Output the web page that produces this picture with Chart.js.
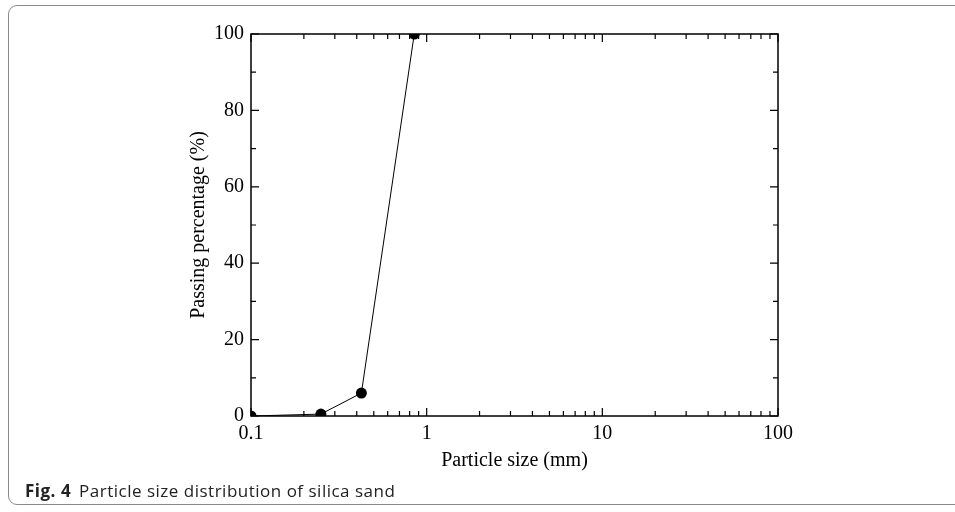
<!DOCTYPE html>
<html>
<head>
<meta charset="utf-8">
<script src="https://cdn.jsdelivr.net/npm/chart.js@4/dist/chart.umd.min.js"></script>
<style>
  html, body { margin: 0; padding: 0; background: #fff; }
  #wrap { position: relative; width: 955px; height: 512px; overflow: hidden; }
  #frame {
    position: absolute; left: 8px; top: 5px; width: 980px; height: 500px;
    border: 1.5px solid #8a8a8a; border-radius: 9px; box-sizing: border-box;
  }
  #caption {
    position: absolute; left: 25px; top: 479px;
    font-family: "Open Sans", sans-serif; font-size: 17px; letter-spacing: 0.5px; color: #222;
  }
  #caption b { font-weight: 700; margin-right: 8px; }
  canvas { position: absolute; left: 0; top: 0; }
</style>
</head>
<body>
<div id="wrap">
  <div id="frame"></div>
  <canvas id="myChart" width="955" height="512"></canvas>
  <div id="caption"><b>Fig. 4</b>Particle size distribution of silica sand</div>
</div>
<script>
// particle size (mm) and passing percentage (%)
const sizes = [0.1, 0.25, 0.425, 0.85];
const passing = [0, 0.5, 6, 100];

const xMajor = [0.1, 1, 10, 100];
const xMinor = [0.2, 0.3, 0.4, 0.5, 0.6, 0.7, 0.8, 0.9, 2, 3, 4, 5, 6, 7, 8, 9, 20, 30, 40, 50, 60, 70, 80, 90];
const yMajor = [0, 20, 40, 60, 80, 100];
const yMinor = [10, 30, 50, 70, 90];

// frame and inward ticks on all four sides
const frameTicks = {
  id: 'frameTicks',
  afterDatasetsDraw(chart) {
    const { ctx, chartArea: a, scales } = chart;
    const x = scales.x, y = scales.y;
    ctx.save();
    ctx.strokeStyle = '#000';
    ctx.lineWidth = 1.5;
    ctx.strokeRect(a.left, a.top, a.right - a.left, a.bottom - a.top);
    ctx.lineWidth = 1.2;
    ctx.beginPath();
    const xt = (v, len) => {
      const px = x.getPixelForValue(v);
      ctx.moveTo(px, a.bottom); ctx.lineTo(px, a.bottom - len);
      ctx.moveTo(px, a.top); ctx.lineTo(px, a.top + len);
    };
    const yt = (v, len) => {
      const py = y.getPixelForValue(v);
      ctx.moveTo(a.left, py); ctx.lineTo(a.left + len, py);
      ctx.moveTo(a.right, py); ctx.lineTo(a.right - len, py);
    };
    xMajor.forEach(v => xt(v, 8));
    xMinor.forEach(v => xt(v, 5));
    yMajor.forEach(v => yt(v, 8));
    yMinor.forEach(v => yt(v, 5));
    ctx.stroke();
    ctx.restore();
  }
};

const serif = { family: '"Liberation Serif", "Times New Roman", serif', size: 20 };

new Chart(document.getElementById('myChart').getContext('2d'), {
  type: 'line',
  data: {
    datasets: [{
      data: sizes.map((s, i) => ({ x: s, y: passing[i] })),
      borderColor: '#000',
      borderWidth: 1,
      backgroundColor: '#000',
      pointRadius: 5.5,
      pointBorderWidth: 0,
      pointBackgroundColor: '#000',
      tension: 0,
    }],
  },
  options: {
    responsive: false,
    animation: false,
    layout: { padding: { left: 187, right: 177, top: 34, bottom: 39 } },
    plugins: { legend: { display: false }, tooltip: { enabled: false } },
    scales: {
      x: {
        type: 'logarithmic',
        min: 0.1,
        max: 100,
        afterBuildTicks: (s) => { s.ticks = xMajor.map(v => ({ value: v })); },
        afterFit: (s) => { s.height = 57; },
        grid: { display: false, drawTicks: false },
        border: { display: false },
        ticks: {
          color: '#000', font: serif, padding: 6, maxRotation: 0, autoSkip: false,
          callback: (v) => String(v),
        },
        title: { display: true, text: 'Particle size (mm)', color: '#000', font: serif, padding: 0 },
      },
      y: {
        min: 0,
        max: 100,
        afterBuildTicks: (s) => { s.ticks = yMajor.map(v => ({ value: v })); },
        afterFit: (s) => { s.width = 64; },
        grid: { display: false, drawTicks: false },
        border: { display: false },
        ticks: { color: '#000', font: serif, padding: 7 },
        title: { display: true, text: 'Passing percentage (%)', color: '#000', font: serif, padding: 0 },
      },
    },
  },
  plugins: [frameTicks],
});
</script>
</body>
</html>
